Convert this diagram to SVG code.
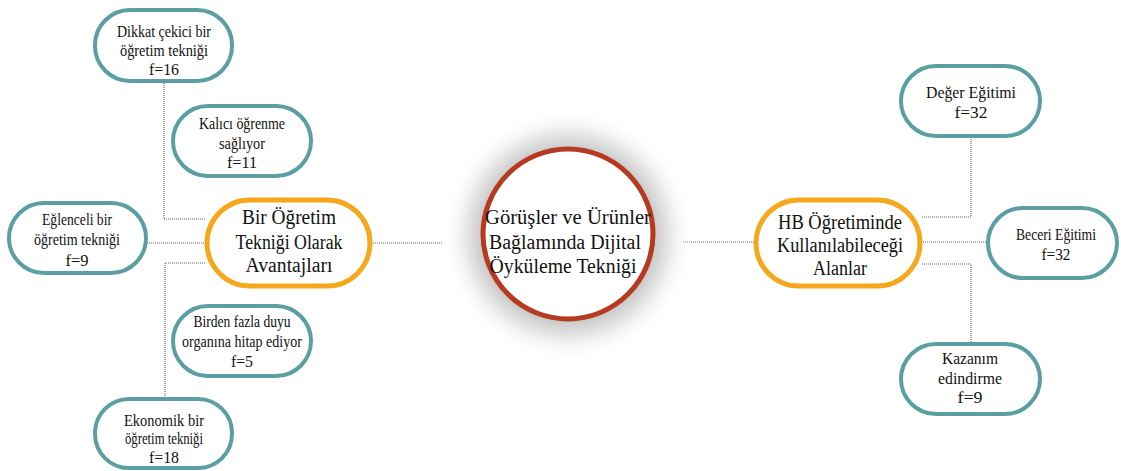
<svg xmlns="http://www.w3.org/2000/svg" width="1121" height="471" viewBox="0 0 1121 471">
<defs>
<radialGradient id="glow" cx="0.5" cy="0.5" r="0.5">
<stop offset="0.66" stop-color="#c2c2c2" stop-opacity="1"/>
<stop offset="0.8" stop-color="#dedede" stop-opacity="0.8"/>
<stop offset="1" stop-color="#ffffff" stop-opacity="0"/>
</radialGradient>
<style>
.leaf{fill:#fff;stroke:#5b9fa2;stroke-width:4}
.main{fill:#fff;stroke:#f6a81c;stroke-width:5}
.conn{fill:none;stroke:#666;stroke-width:1.2;stroke-dasharray:1 1}
</style>
</defs>
<rect width="1121" height="471" fill="#fff"/>
<g id="connectors">
<polyline class="conn" points="164,81 164,219 205,219"/>
<line class="conn" x1="147" y1="243" x2="205" y2="243"/>
<polyline class="conn" points="205,263 165,263 165,398"/>
<line class="conn" x1="371" y1="243" x2="443" y2="243"/>
<line class="conn" x1="683" y1="242" x2="755" y2="242"/>
<polyline class="conn" points="922,217 971,217 971,137"/>
<line class="conn" x1="921" y1="242" x2="987" y2="242"/>
<polyline class="conn" points="922,264 971,264 971,343"/>
</g>
<g id="center" font-family="Liberation Serif" font-size="20.5" text-anchor="middle" fill="#111" lengthAdjust="spacingAndGlyphs">
<circle cx="568" cy="235" r="126" fill="url(#glow)"/>
<circle cx="568" cy="234" r="85" fill="#fff" stroke="#b63a20" stroke-width="5"/>
<text x="568" y="224" textLength="166" lengthAdjust="spacingAndGlyphs">Görüşler ve Ürünler</text>
<text x="565" y="249" textLength="152" lengthAdjust="spacingAndGlyphs">Bağlamında Dijital</text>
<text x="563" y="273" textLength="147" lengthAdjust="spacingAndGlyphs">Öyküleme Tekniği</text>
</g>
<g id="avantajlar" font-family="Liberation Serif" font-size="20.5" text-anchor="middle" fill="#111">
<rect class="main" x="207" y="200" width="163" height="86" rx="43"/>
<text x="289" y="224" textLength="94" lengthAdjust="spacingAndGlyphs">Bir Öğretim</text>
<text x="289" y="249" textLength="107" lengthAdjust="spacingAndGlyphs">Tekniği Olarak</text>
<text x="289" y="272" textLength="87" lengthAdjust="spacingAndGlyphs">Avantajları</text>
</g>
<g id="alanlar" font-family="Liberation Serif" font-size="20.5" text-anchor="middle" fill="#111">
<rect class="main" x="756" y="200" width="164" height="86" rx="43"/>
<text x="840" y="229" textLength="124" lengthAdjust="spacingAndGlyphs">HB Öğretiminde</text>
<text x="840" y="252" textLength="126" lengthAdjust="spacingAndGlyphs">Kullanılabileceği</text>
<text x="840" y="275" textLength="54" lengthAdjust="spacingAndGlyphs">Alanlar</text>
</g>
<g id="dikkat" font-family="Liberation Serif" font-size="16" text-anchor="middle" fill="#111">
<rect class="leaf" x="95" y="10" width="137" height="71" rx="35"/>
<text x="164" y="37" textLength="94" lengthAdjust="spacingAndGlyphs">Dikkat çekici bir</text>
<text x="164" y="56" textLength="88" lengthAdjust="spacingAndGlyphs">öğretim tekniği</text>
<text x="164" y="75" textLength="30" lengthAdjust="spacingAndGlyphs">f=16</text>
</g>
<g id="kalici" font-family="Liberation Serif" font-size="16" text-anchor="middle" fill="#111">
<rect class="leaf" x="173" y="106" width="138" height="70" rx="35"/>
<text x="242" y="129" textLength="86" lengthAdjust="spacingAndGlyphs">Kalıcı öğrenme</text>
<text x="242" y="149" textLength="46" lengthAdjust="spacingAndGlyphs">sağlıyor</text>
<text x="242" y="168" textLength="30" lengthAdjust="spacingAndGlyphs">f=11</text>
</g>
<g id="eglenceli" font-family="Liberation Serif" font-size="16" text-anchor="middle" fill="#111">
<rect class="leaf" x="9" y="203" width="137" height="70" rx="35"/>
<text x="77" y="225" textLength="70" lengthAdjust="spacingAndGlyphs">Eğlenceli bir</text>
<text x="77" y="245" textLength="86" lengthAdjust="spacingAndGlyphs">öğretim tekniği</text>
<text x="77" y="266" textLength="23" lengthAdjust="spacingAndGlyphs">f=9</text>
</g>
<g id="birden" font-family="Liberation Serif" font-size="16" text-anchor="middle" fill="#111">
<rect class="leaf" x="173" y="306" width="138" height="70" rx="35"/>
<text x="242" y="327" textLength="97" lengthAdjust="spacingAndGlyphs">Birden fazla duyu</text>
<text x="242" y="347" textLength="120" lengthAdjust="spacingAndGlyphs">organına hitap ediyor</text>
<text x="242" y="367" textLength="22" lengthAdjust="spacingAndGlyphs">f=5</text>
</g>
<g id="ekonomik" font-family="Liberation Serif" font-size="16" text-anchor="middle" fill="#111">
<rect class="leaf" x="95" y="399" width="137" height="69" rx="34"/>
<text x="164" y="426" textLength="80" lengthAdjust="spacingAndGlyphs">Ekonomik bir</text>
<text x="164" y="444" textLength="78" lengthAdjust="spacingAndGlyphs">öğretim tekniği</text>
<text x="164" y="463" textLength="30" lengthAdjust="spacingAndGlyphs">f=18</text>
</g>
<g id="deger" font-family="Liberation Serif" font-size="16" text-anchor="middle" fill="#111">
<rect class="leaf" x="901" y="66" width="139" height="70" rx="35"/>
<text x="971" y="98" textLength="90" lengthAdjust="spacingAndGlyphs">Değer Eğitimi</text>
<text x="971" y="118" textLength="33" lengthAdjust="spacingAndGlyphs">f=32</text>
</g>
<g id="beceri" font-family="Liberation Serif" font-size="16" text-anchor="middle" fill="#111">
<rect class="leaf" x="988" y="208" width="129" height="70" rx="35"/>
<text x="1056" y="240" textLength="80" lengthAdjust="spacingAndGlyphs">Beceri Eğitimi</text>
<text x="1056" y="260" textLength="29" lengthAdjust="spacingAndGlyphs">f=32</text>
</g>
<g id="kazanim" font-family="Liberation Serif" font-size="16" text-anchor="middle" fill="#111">
<rect class="leaf" x="901" y="344" width="139" height="70" rx="35"/>
<text x="970" y="364" textLength="56" lengthAdjust="spacingAndGlyphs">Kazanım</text>
<text x="970" y="384" textLength="64" lengthAdjust="spacingAndGlyphs">edindirme</text>
<text x="970" y="403" textLength="25" lengthAdjust="spacingAndGlyphs">f=9</text>
</g>
</svg>
